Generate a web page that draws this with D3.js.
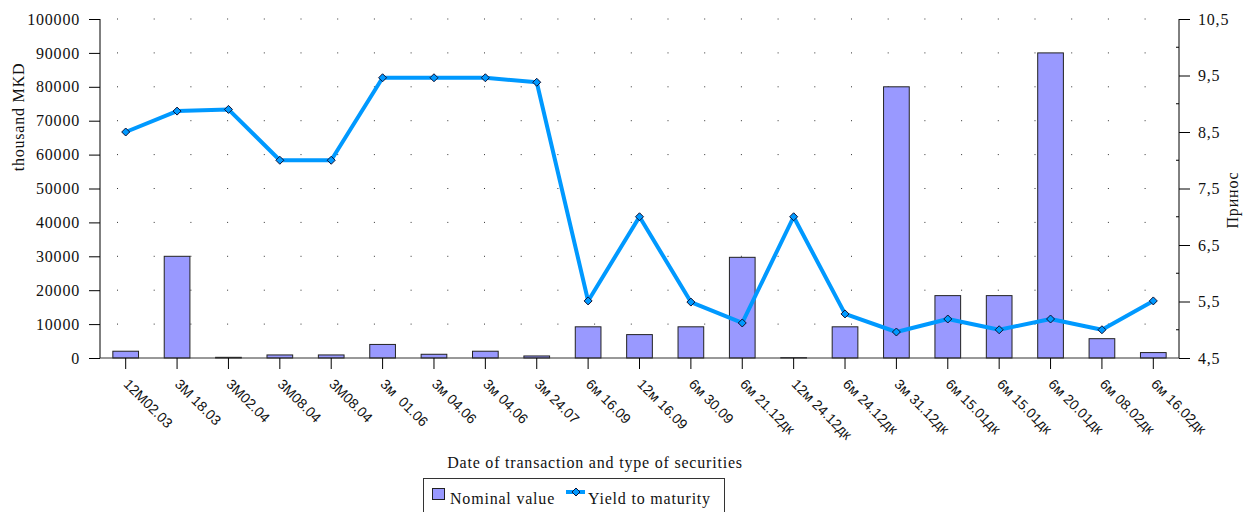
<!DOCTYPE html>
<html>
<head>
<meta charset="utf-8">
<script src="https://cdn.jsdelivr.net/npm/d3@7"></script>
<style>
  body { margin: 0; background: #fff; }
  .serif { font-family: 'Liberation Serif', 'DejaVu Serif', serif; font-size: 16px; letter-spacing: 0.8px; fill: #111; }
  .cat { font-family: 'Liberation Sans', Arial, sans-serif; font-size: 14px; fill: #111; white-space: pre; }
</style>
</head>
<body>
<div id="chart"></div>
<script>
// categories along the x axis
let categories = [
  '12M02.03', '3M 18.03', '3M02.04', '3M08.04', '3M08.04', '3м  01.06', '3м 04.06',
  '3м 04.06', '3м 24.07', '6м 16.09', '12м 16.09', '6м 30.09', '6м 21.12дк',
  '12м 24.12дк', '6м 24.12дк', '3м 31.12дк', '6м 15.01дк', '6м 15.01дк',
  '6м 20.01дк', '6м 08.02дк', '6м 16.02дк'
]

// nominal value, thousand MKD
let nominalValues = [
  2000, 30000, 200, 900, 900, 4000, 1100, 2000, 600, 9200, 6900, 9200,
  29700, 100, 9200, 80000, 18400, 18400, 90000, 5700, 1600
]

// yield to maturity
let yieldValues = [
  8.5, 8.87, 8.9, 8.0, 8.0, 9.46, 9.46, 9.46, 9.38, 5.51, 7.0, 5.49,
  5.12, 7.0, 5.28, 4.96, 5.19, 5.0, 5.19, 5.0, 5.51
]

let leftTicks = [0, 10000, 20000, 30000, 40000, 50000, 60000, 70000, 80000, 90000, 100000]
let rightTicks = [4.5, 5.5, 6.5, 7.5, 8.5, 9.5, 10.5]
let rightMinorTicks = [5, 6, 7, 8, 9, 10]

var margin = { top: 19, left: 100, right: 64, bottom: 154 }
var width = 1243 - margin.left - margin.right
var height = 512 - margin.top - margin.bottom

var svgRoot = d3
  .select('#chart')
  .append('svg')
  .attr('width', 1243)
  .attr('height', 512)

var svg = svgRoot
  .append('g')
  .attr('transform', `translate(${margin.left},${margin.top})`)

let xPositionScale = d3
  .scaleBand()
  .domain(d3.range(categories.length))
  .range([0, width])
  .paddingInner(0.5)
  .paddingOuter(0.25)

let yPositionScale = d3
  .scaleLinear()
  .domain([0, 100000])
  .range([height, 0])

let yRightScale = d3
  .scaleLinear()
  .domain([4.5, 10.5])
  .range([height, 0])

let center = i => xPositionScale(i) + xPositionScale.bandwidth() / 2

/* dotted grid */
svg
  .selectAll('.grid')
  .data(leftTicks.slice(1))
  .enter()
  .append('line')
  .attr('class', 'grid')
  .attr('x1', 17)
  .attr('x2', width)
  .attr('y1', d => yPositionScale(d))
  .attr('y2', d => yPositionScale(d))
  .attr('stroke', '#333')
  .attr('stroke-width', 1)
  .attr('stroke-dasharray', '1,35.7')

/* bars */
svg
  .selectAll('.bar')
  .data(nominalValues)
  .enter()
  .append('rect')
  .attr('class', 'bar')
  .attr('x', (d, i) => xPositionScale(i))
  .attr('width', xPositionScale.bandwidth())
  .attr('y', d => yPositionScale(d))
  .attr('height', d => height - yPositionScale(d))
  .attr('fill', '#9999ff')
  .attr('stroke', '#222')
  .attr('stroke-width', 1)

/* axes */
var yAxis = d3.axisLeft(yPositionScale).tickValues(leftTicks).tickSize(11).tickPadding(9).tickFormat(d3.format('d'))
svg
  .append('g')
  .attr('class', 'axis y-axis')
  .call(yAxis)
  .call(g => g.select('.domain').attr('stroke', '#000').attr('d', `M0,0V${height}`))

var yRightAxis = d3.axisRight(yRightScale).tickValues(rightTicks).tickSize(11).tickPadding(8)
  .tickFormat(d => String(d).replace('.', ','))
svg
  .append('g')
  .attr('class', 'axis y-right')
  .attr('transform', `translate(${width},0)`)
  .call(yRightAxis)
  .call(g => g.select('.domain').attr('stroke', '#000').attr('d', `M0,0V${height}`))

svg
  .append('g')
  .selectAll('line')
  .data(rightMinorTicks)
  .enter()
  .append('line')
  .attr('x1', width - 3)
  .attr('x2', width)
  .attr('y1', d => yRightScale(d))
  .attr('y2', d => yRightScale(d))
  .attr('stroke', '#000')

var xAxis = d3.axisBottom(xPositionScale).tickSize(11).tickFormat('')
svg
  .append('g')
  .attr('class', 'axis x-axis')
  .attr('transform', `translate(0,${height})`)
  .call(xAxis)
  .call(g => g.select('.domain').attr('stroke', '#333').attr('d', `M0,0H${width}`))

svg.selectAll('.tick line').attr('stroke', '#000')
svg.selectAll('.y-axis .tick text, .y-right .tick text')
  .attr('class', 'serif')
  .attr('font-family', null)
  .attr('font-size', null)
  .attr('fill', null)

svg
  .append('g')
  .selectAll('text')
  .data(categories)
  .enter()
  .append('text')
  .attr('class', 'cat')
  .attr('transform', (d, i) => `translate(${center(i) - 3},${height + 27}) rotate(45)`)
  .text(d => d)

/* yield line */
var line = d3
  .line()
  .x((d, i) => center(i))
  .y(d => yRightScale(d))

svg
  .append('path')
  .datum(yieldValues)
  .attr('d', line)
  .attr('fill', 'none')
  .attr('stroke', '#0099ff')
  .attr('stroke-width', 4)
  .attr('stroke-linejoin', 'round')

svg
  .selectAll('.marker')
  .data(yieldValues)
  .enter()
  .append('path')
  .attr('class', 'marker')
  .attr('d', 'M0,-4L4,0L0,4L-4,0Z')
  .attr('transform', (d, i) => `translate(${center(i)},${yRightScale(d)})`)
  .attr('fill', '#0099ff')
  .attr('stroke', '#113')
  .attr('stroke-width', 1)

/* titles */
svgRoot
  .append('text')
  .attr('class', 'serif')
  .attr('transform', 'translate(24,117) rotate(-90)')
  .attr('text-anchor', 'middle')
  .text('thousand MKD')

svgRoot
  .append('text')
  .attr('class', 'serif')
  .attr('transform', 'translate(1238,200) rotate(-90)')
  .attr('text-anchor', 'middle')
  .text('Принос')

svgRoot
  .append('text')
  .attr('class', 'serif')
  .attr('x', 595)
  .attr('y', 468)
  .attr('text-anchor', 'middle')
  .text('Date of transaction and type of securities')

/* legend */
var legend = svgRoot.append('g')
legend
  .append('rect')
  .attr('x', 423.5)
  .attr('y', 478.5)
  .attr('width', 301)
  .attr('height', 40)
  .attr('fill', '#fff')
  .attr('stroke', '#333')

legend
  .append('rect')
  .attr('x', 432.5)
  .attr('y', 488.5)
  .attr('width', 12)
  .attr('height', 11)
  .attr('fill', '#9999ff')
  .attr('stroke', '#222')

legend
  .append('text')
  .attr('class', 'serif')
  .attr('x', 450)
  .attr('y', 504)
  .text('Nominal value')

legend
  .append('line')
  .attr('x1', 566)
  .attr('x2', 585)
  .attr('y1', 492)
  .attr('y2', 492)
  .attr('stroke', '#0099ff')
  .attr('stroke-width', 4)

legend
  .append('path')
  .attr('d', 'M0,-4L4,0L0,4L-4,0Z')
  .attr('transform', 'translate(576,492)')
  .attr('fill', '#0099ff')
  .attr('stroke', '#113')

legend
  .append('text')
  .attr('class', 'serif')
  .attr('x', 588)
  .attr('y', 504)
  .text('Yield to maturity')
</script>
</body>
</html>
